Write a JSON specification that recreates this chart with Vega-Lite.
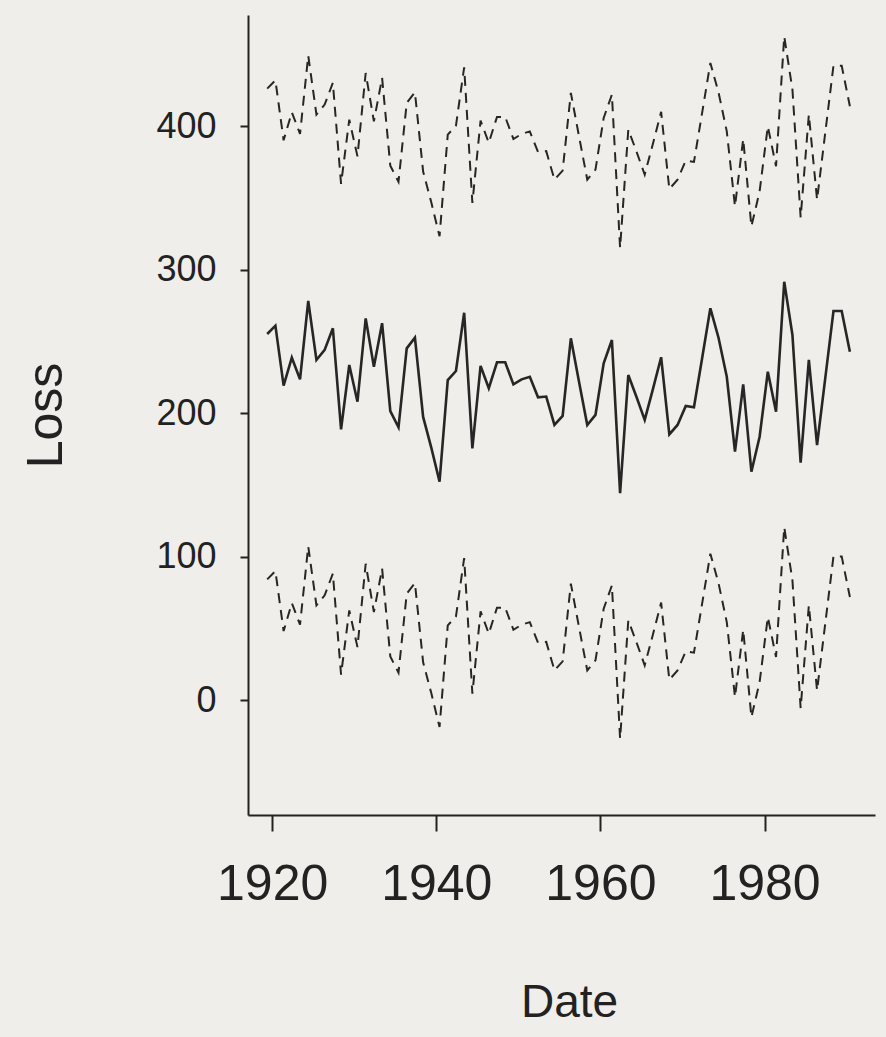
{
  "$schema": "https://vega.github.io/schema/vega-lite/v6.json",
  "width": 627,
  "height": 800,
  "autosize": "none",
  "padding": {"left": 248, "top": 15, "right": 11, "bottom": 222},
  "background": "#efeeea",
  "config": {
    "view": {"stroke": null},
    "font": "Liberation Sans",
    "axis": {"grid": false, "domainColor": "#222222", "domainWidth": 2, "tickColor": "#222222", "tickWidth": 2, "labelColor": "#222222", "titleColor": "#222222", "labelFont": "Liberation Sans", "titleFont": "Liberation Sans", "titleFontWeight": "normal"}
  },
  "data": {"values": [
    {"Date": 1919.4, "Loss": 255.4, "Upper": 426.4, "Lower": 84.4},
    {"Date": 1920.4, "Loss": 261.2, "Upper": 432.2, "Lower": 90.2},
    {"Date": 1921.4, "Loss": 219.4, "Upper": 390.4, "Lower": 48.4},
    {"Date": 1922.4, "Loss": 238.9, "Upper": 409.9, "Lower": 67.9},
    {"Date": 1923.4, "Loss": 223.8, "Upper": 394.8, "Lower": 52.8},
    {"Date": 1924.4, "Loss": 278.4, "Upper": 449.4, "Lower": 107.4},
    {"Date": 1925.4, "Loss": 237.3, "Upper": 408.3, "Lower": 66.3},
    {"Date": 1926.4, "Loss": 244.3, "Upper": 415.3, "Lower": 73.3},
    {"Date": 1927.4, "Loss": 259.4, "Upper": 430.4, "Lower": 88.4},
    {"Date": 1928.4, "Loss": 189.0, "Upper": 360.0, "Lower": 18.0},
    {"Date": 1929.4, "Loss": 233.8, "Upper": 404.8, "Lower": 62.8},
    {"Date": 1930.4, "Loss": 208.2, "Upper": 379.2, "Lower": 37.2},
    {"Date": 1931.4, "Loss": 266.3, "Upper": 437.3, "Lower": 95.3},
    {"Date": 1932.4, "Loss": 232.6, "Upper": 403.6, "Lower": 61.6},
    {"Date": 1933.4, "Loss": 262.9, "Upper": 433.9, "Lower": 91.9},
    {"Date": 1934.4, "Loss": 201.7, "Upper": 372.7, "Lower": 30.7},
    {"Date": 1935.4, "Loss": 190.4, "Upper": 361.4, "Lower": 19.4},
    {"Date": 1936.4, "Loss": 245.4, "Upper": 416.4, "Lower": 74.4},
    {"Date": 1937.4, "Loss": 252.8, "Upper": 423.8, "Lower": 81.8},
    {"Date": 1938.4, "Loss": 197.6, "Upper": 368.6, "Lower": 26.6},
    {"Date": 1939.4, "Loss": 176.0, "Upper": 347.0, "Lower": 5.0},
    {"Date": 1940.4, "Loss": 152.5, "Upper": 323.5, "Lower": -18.5},
    {"Date": 1941.4, "Loss": 223.3, "Upper": 394.3, "Lower": 52.3},
    {"Date": 1942.4, "Loss": 229.6, "Upper": 400.6, "Lower": 58.6},
    {"Date": 1943.4, "Loss": 270.2, "Upper": 441.2, "Lower": 99.2},
    {"Date": 1944.4, "Loss": 175.7, "Upper": 346.7, "Lower": 4.7},
    {"Date": 1945.4, "Loss": 233.1, "Upper": 404.1, "Lower": 62.1},
    {"Date": 1946.4, "Loss": 217.6, "Upper": 388.6, "Lower": 46.6},
    {"Date": 1947.4, "Loss": 235.7, "Upper": 406.7, "Lower": 64.7},
    {"Date": 1948.4, "Loss": 235.7, "Upper": 406.7, "Lower": 64.7},
    {"Date": 1949.4, "Loss": 220.3, "Upper": 391.3, "Lower": 49.3},
    {"Date": 1950.4, "Loss": 223.8, "Upper": 394.8, "Lower": 52.8},
    {"Date": 1951.4, "Loss": 225.6, "Upper": 396.6, "Lower": 54.6},
    {"Date": 1952.4, "Loss": 211.3, "Upper": 382.3, "Lower": 40.3},
    {"Date": 1953.4, "Loss": 211.8, "Upper": 382.8, "Lower": 40.8},
    {"Date": 1954.4, "Loss": 192.0, "Upper": 363.0, "Lower": 21.0},
    {"Date": 1955.4, "Loss": 198.3, "Upper": 369.3, "Lower": 27.3},
    {"Date": 1956.4, "Loss": 252.4, "Upper": 423.4, "Lower": 81.4},
    {"Date": 1957.4, "Loss": 222.0, "Upper": 393.0, "Lower": 51.0},
    {"Date": 1958.4, "Loss": 192.0, "Upper": 363.0, "Lower": 21.0},
    {"Date": 1959.4, "Loss": 199.0, "Upper": 370.0, "Lower": 28.0},
    {"Date": 1960.4, "Loss": 235.0, "Upper": 406.0, "Lower": 64.0},
    {"Date": 1961.4, "Loss": 251.2, "Upper": 422.2, "Lower": 80.2},
    {"Date": 1962.4, "Loss": 144.4, "Upper": 315.4, "Lower": -26.6},
    {"Date": 1963.4, "Loss": 226.8, "Upper": 397.8, "Lower": 55.8},
    {"Date": 1964.4, "Loss": 211.5, "Upper": 382.5, "Lower": 40.5},
    {"Date": 1965.4, "Loss": 195.5, "Upper": 366.5, "Lower": 24.5},
    {"Date": 1966.4, "Loss": 217.0, "Upper": 388.0, "Lower": 46.0},
    {"Date": 1967.4, "Loss": 239.2, "Upper": 410.2, "Lower": 68.2},
    {"Date": 1968.4, "Loss": 185.4, "Upper": 356.4, "Lower": 14.4},
    {"Date": 1969.4, "Loss": 192.0, "Upper": 363.0, "Lower": 21.0},
    {"Date": 1970.4, "Loss": 205.2, "Upper": 376.2, "Lower": 34.2},
    {"Date": 1971.4, "Loss": 204.3, "Upper": 375.3, "Lower": 33.3},
    {"Date": 1972.4, "Loss": 238.7, "Upper": 409.7, "Lower": 67.7},
    {"Date": 1973.4, "Loss": 273.3, "Upper": 444.3, "Lower": 102.3},
    {"Date": 1974.4, "Loss": 252.6, "Upper": 423.6, "Lower": 81.6},
    {"Date": 1975.4, "Loss": 225.6, "Upper": 396.6, "Lower": 54.6},
    {"Date": 1976.4, "Loss": 173.4, "Upper": 344.4, "Lower": 2.4},
    {"Date": 1977.4, "Loss": 220.3, "Upper": 391.3, "Lower": 49.3},
    {"Date": 1978.4, "Loss": 159.4, "Upper": 330.4, "Lower": -11.6},
    {"Date": 1979.4, "Loss": 183.8, "Upper": 354.8, "Lower": 12.8},
    {"Date": 1980.4, "Loss": 229.1, "Upper": 400.1, "Lower": 58.1},
    {"Date": 1981.4, "Loss": 201.3, "Upper": 372.3, "Lower": 30.3},
    {"Date": 1982.4, "Loss": 291.8, "Upper": 462.8, "Lower": 120.8},
    {"Date": 1983.4, "Loss": 254.7, "Upper": 425.7, "Lower": 83.7},
    {"Date": 1984.4, "Loss": 165.7, "Upper": 336.7, "Lower": -5.3},
    {"Date": 1985.4, "Loss": 237.3, "Upper": 408.3, "Lower": 66.3},
    {"Date": 1986.4, "Loss": 178.0, "Upper": 349.0, "Lower": 7.0},
    {"Date": 1987.4, "Loss": 224.7, "Upper": 395.7, "Lower": 53.7},
    {"Date": 1988.4, "Loss": 271.4, "Upper": 442.4, "Lower": 100.4},
    {"Date": 1989.4, "Loss": 271.4, "Upper": 442.4, "Lower": 100.4},
    {"Date": 1990.4, "Loss": 243.1, "Upper": 414.1, "Lower": 72.1}
  ]},
  "encoding": {
    "x": {"field": "Date", "type": "quantitative",
      "scale": {"domain": [1917.06, 1993.46], "nice": false, "zero": false},
      "axis": {"values": [1920, 1940, 1960, 1980], "format": "d", "tickSize": 16, "labelFontSize": 50, "labelPadding": 28, "labelBaseline": "top",
        "title": "Date", "titleFontSize": 46, "titleX": 321, "titleY": 187, "titleBaseline": "middle", "titleAlign": "center"}}
  },
  "layer": [
    {"mark": {"type": "line", "color": "#262626", "strokeWidth": 2.6},
     "encoding": {"y": {"field": "Loss", "type": "quantitative",
       "scale": {"domain": [-79.8, 477.7], "nice": false, "zero": false},
       "axis": {"values": [0, 100, 200, 300, 400], "tickSize": 8, "labelFontSize": 36, "labelPadding": 24,
         "title": "Loss", "titleFontSize": 50, "titleAngle": -90, "titleX": -202, "titleY": 400, "titleBaseline": "middle", "titleAlign": "center"}}}},
    {"mark": {"type": "line", "color": "#262626", "strokeWidth": 2, "strokeDash": [10, 7]},
     "encoding": {"y": {"field": "Upper", "type": "quantitative"}}},
    {"mark": {"type": "line", "color": "#262626", "strokeWidth": 2, "strokeDash": [10, 7]},
     "encoding": {"y": {"field": "Lower", "type": "quantitative"}}}
  ]
}
